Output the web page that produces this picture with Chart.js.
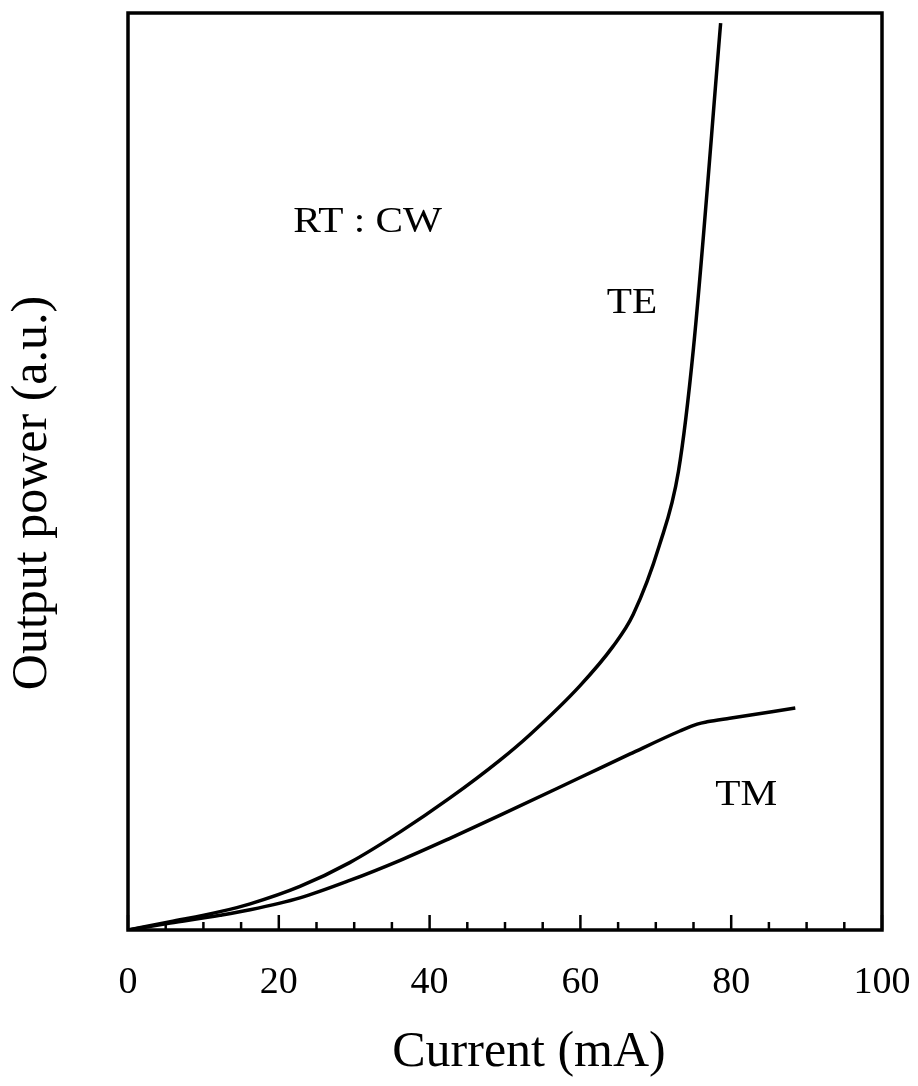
<!DOCTYPE html>
<html>
<head>
<meta charset="utf-8">
<script src="https://cdn.jsdelivr.net/npm/chart.js@4"></script>
<style>
  html, body { margin: 0; padding: 0; background: #fff; }
</style>
</head>
<body>
<canvas id="myChart" width="918" height="1086"></canvas>
<script>
// values (current in mA, power in a.u. on a 0-100 scale)
const currentTE = [0, 5.6, 12.2, 16.2, 22.8, 29.4, 36.1, 42.7, 49.3, 53.3, 59.9, 64.3, 67.0, 70.5, 73.0, 75.0, 78.6];
const powerTE   = [0, 0.9, 2.0, 2.85, 4.75, 7.35, 10.7, 14.4, 18.5, 21.3, 26.6, 30.9, 34.4, 42.0, 50.0, 63.5, 98.9];

const currentTM = [0, 5.6, 12.2, 16.2, 22.8, 29.4, 36.1, 42.7, 49.3, 59.9, 66.6, 73.2, 75.5, 76.8, 79.8, 88.5];
const powerTM   = [0, 0.75, 1.6, 2.2, 3.5, 5.4, 7.6, 10.0, 12.5, 16.6, 19.2, 21.7, 22.45, 22.7, 23.1, 24.2];

const xTickLabels = [0, 20, 40, 60, 80, 100];

// text notes placed in data coordinates
const noteText = ['RT : CW', 'TE', 'TM'];
const noteX    = [21.9, 63.5, 77.9];
const noteY    = [76.1, 67.3, 13.6];

const toPoints = (xs, ys) => xs.map((v, i) => ({x: v, y: ys[i]}));

const serif = '"Liberation Serif", "Times New Roman", serif';

const framePlugin = {
  id: 'frame',
  afterDatasetsDraw(chart) {
    const {ctx, chartArea: a, scales: {x, y}} = chart;
    ctx.save();
    ctx.strokeStyle = '#000';
    ctx.lineWidth = 3.5;
    ctx.strokeRect(a.left, a.top, a.right - a.left, a.bottom - a.top);

    // ticks pointing into the plot
    ctx.lineWidth = 2.5;
    x.ticks.forEach(t => {
      const px = x.getPixelForValue(t.value);
      const len = xTickLabels.includes(t.value) ? 15 : 8;
      ctx.beginPath();
      ctx.moveTo(px, a.bottom);
      ctx.lineTo(px, a.bottom - len);
      ctx.stroke();
    });

    ctx.fillStyle = '#000';
    ctx.textBaseline = 'alphabetic';
    ctx.textAlign = 'left';
    ctx.font = '35px ' + serif;
    noteText.forEach((s, i) => {
      ctx.save();
      ctx.translate(x.getPixelForValue(noteX[i]), y.getPixelForValue(noteY[i]));
      ctx.scale(1.18, 1);
      ctx.fillText(s, 0, 0);
      ctx.restore();
    });

    // axis titles
    ctx.font = '50px ' + serif;
    ctx.textAlign = 'center';
    ctx.fillText('Current (mA)', 529, 1066);
    ctx.translate(46, 493);
    ctx.rotate(-Math.PI / 2);
    ctx.fillText('Output power (a.u.)', 0, 0);
    ctx.restore();
  }
};

new Chart(document.getElementById('myChart'), {
  type: 'scatter',
  data: {
    datasets: [
      {
        label: 'TE',
        data: toPoints(currentTE, powerTE),
        showLine: true,
        borderColor: '#000',
        borderWidth: 3.5,
        pointRadius: 0,
        cubicInterpolationMode: 'monotone'
      },
      {
        label: 'TM',
        data: toPoints(currentTM, powerTM),
        showLine: true,
        borderColor: '#000',
        borderWidth: 3.5,
        pointRadius: 0,
        cubicInterpolationMode: 'monotone'
      }
    ]
  },
  options: {
    responsive: false,
    animation: false,
    layout: { padding: { top: 13, right: 36, left: 128, bottom: 0 } },
    plugins: { legend: { display: false }, tooltip: { enabled: false } },
    scales: {
      x: {
        type: 'linear',
        min: 0,
        max: 100,
        border: { display: false },
        grid: { display: false, drawTicks: false },
        ticks: {
          stepSize: 5,
          padding: 30,
          color: '#000',
          font: { family: serif, size: 38 },
          maxRotation: 0,
          autoSkip: false,
          callback: v => xTickLabels.includes(v) ? String(v) : ''
        },
        afterFit: s => { s.height = 156; s.paddingLeft = 0; s.paddingRight = 0; }
      },
      y: {
        display: false,
        min: 0,
        max: 100
      }
    }
  },
  plugins: [framePlugin]
});
</script>
</body>
</html>
